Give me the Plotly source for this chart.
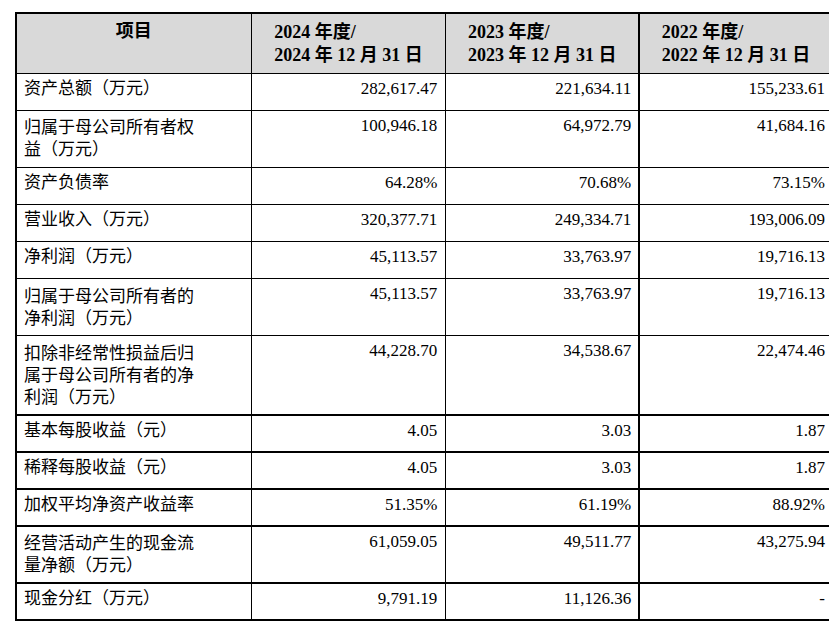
import plotly.graph_objects as go

headers = ["<b>项目</b>", "<b>2024 年度/<br>2024 年 12 月 31 日</b>",
           "<b>2023 年度/<br>2023 年 12 月 31 日</b>", "<b>2022 年度/<br>2022 年 12 月 31 日</b>"]
items = ["资产总额（万元）", "归属于母公司所有者权<br>益（万元）", "资产负债率", "营业收入（万元）",
         "净利润（万元）", "归属于母公司所有者的<br>净利润（万元）",
         "扣除非经常性损益后归<br>属于母公司所有者的净<br>利润（万元）",
         "基本每股收益（元）", "稀释每股收益（元）", "加权平均净资产收益率",
         "经营活动产生的现金流<br>量净额（万元）", "现金分红（万元）"]
y2024 = ["282,617.47", "100,946.18", "64.28%", "320,377.71", "45,113.57", "45,113.57",
         "44,228.70", "4.05", "4.05", "51.35%", "61,059.05", "9,791.19"]
y2023 = ["221,634.11", "64,972.79", "70.68%", "249,334.71", "33,763.97", "33,763.97",
         "34,538.67", "3.03", "3.03", "61.19%", "49,511.77", "11,126.36"]
y2022 = ["155,233.61", "41,684.16", "73.15%", "193,006.09", "19,716.13", "19,716.13",
         "22,474.46", "1.87", "1.87", "88.92%", "43,275.94", "-"]

font = "Liberation Serif, Noto Sans CJK SC"
fig = go.Figure(go.Table(
    columnwidth=[237, 195, 195, 195],
    header=dict(values=headers, fill_color="#d9d9d9", line=dict(color="black", width=1.5),
                align="center", height=58, font=dict(family=font, size=18, color="black")),
    cells=dict(values=[items, y2024, y2023, y2022], fill_color="white",
               line=dict(color="black", width=1.5), align=["left", "right", "right", "right"],
               height=37, font=dict(family=font, size=17, color="black")),
))
fig.update_layout(width=837, height=627, margin=dict(l=8, r=12, t=5, b=5),
                  paper_bgcolor="white")
fig.write_html("out.html")
